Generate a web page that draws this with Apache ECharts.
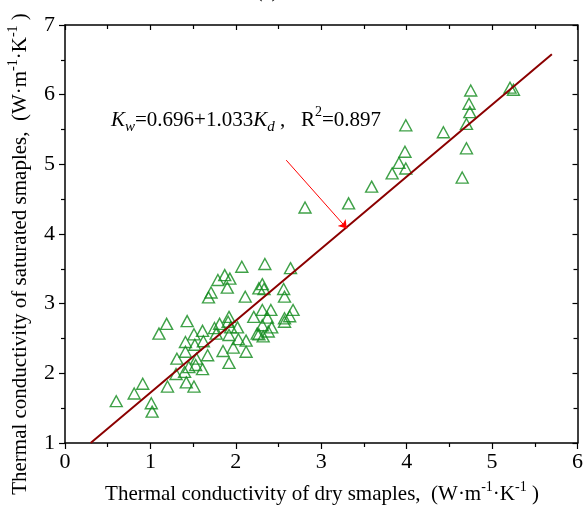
<!DOCTYPE html>
<html>
<head>
<meta charset="utf-8">
<script src="https://cdn.jsdelivr.net/npm/echarts@6/dist/echarts.min.js"></script>
<style>
  html, body { margin: 0; padding: 0; background: #fff; }
  #chart { width: 586px; height: 512px; }
</style>
</head>
<body>
<div id="chart"></div>
<script>
// 干样导热系数 / 饱和样导热系数
var kDry = [0.60, 0.81, 0.91, 1.01, 1.02, 1.10, 1.19, 1.20, 1.30, 1.31, 1.42, 1.43, 1.41, 1.41, 1.45,
  1.51, 1.52, 1.51, 1.54, 1.61, 1.62, 1.61, 1.67, 1.68, 1.71, 1.79, 1.87, 1.93, 1.90, 1.75,
  1.81, 1.77, 1.85, 1.92, 1.92, 1.91, 1.94, 1.92, 2.02, 2.03, 1.97, 2.12, 2.12, 2.07, 2.11,
  2.21, 2.25, 2.27, 2.31, 2.33, 2.34, 2.31, 2.41, 2.37, 2.31, 2.32, 2.38, 2.42, 2.27, 2.56,
  2.57, 2.64, 2.67, 2.57, 2.63, 2.57, 1.40, 1.53,
  2.81, 3.32, 3.59, 3.83, 3.91, 3.99, 3.98, 3.99, 4.43, 4.65, 4.70, 4.70, 4.74, 4.73, 4.75,
  5.21, 5.25];
var kSat = [1.60, 1.71, 1.85, 1.57, 1.45, 2.57, 2.71, 1.81, 1.99, 2.21, 1.87, 2.75, 2.45, 2.31, 2.09,
  1.81, 2.41, 2.56, 2.21, 2.61, 2.46, 2.06, 2.26, 3.09, 3.16, 3.34, 3.41, 3.36, 3.23, 2.65,
  2.71, 2.57, 2.32, 2.15, 2.81, 2.74, 2.66, 2.55, 2.66, 2.49, 2.37, 2.47, 2.31, 3.53, 3.10,
  2.81, 2.57, 3.22, 3.28, 3.21, 3.57, 2.91, 2.91, 2.80, 2.69, 2.53, 2.60, 2.66, 2.56, 3.21,
  3.10, 3.51, 2.91, 2.79, 2.82, 2.74, 2.02, 2.12,
  4.38, 4.44, 4.68, 4.87, 5.02, 4.94, 5.18, 5.56, 5.46, 4.81, 5.23, 5.58, 5.75, 5.87, 6.06,
  6.10, 6.07];
// 拟合直线端点
var fitX = [0.30, 5.70];
var fitY = [1.00, 6.58];
// 箭头
var arrowX = [2.59, 3.30];
var arrowY = [5.06, 4.08];
var xTicks = [0, 1, 2, 3, 4, 5, 6];
var yTicks = [1, 2, 3, 4, 5, 6, 7];

var serif = '"Liberation Serif", "DejaVu Serif", serif';
var green = '#0f8a1a';

var chart = echarts.init(document.getElementById('chart'));

var points = kDry.map(function (x, i) { return [x, kSat[i]]; });
var fitLine = fitX.map(function (x, i) { return [x, fitY[i]]; });
var arrow = arrowX.map(function (x, i) { return [x, arrowY[i]]; });

function axisBase(min, max, ticks) {
  return {
    type: 'value',
    min: min,
    max: max,
    interval: ticks[1] - ticks[0],
    axisLine: { show: true, onZero: false, lineStyle: { color: '#000', width: 1.5 } },
    splitLine: { show: false }
  };
}

var xBottom = Object.assign(axisBase(xTicks[0], xTicks[xTicks.length - 1], xTicks), {
  position: 'bottom',
  axisTick: { show: true, inside: false, length: 6, lineStyle: { color: '#000', width: 1.2 } },
  minorTick: { show: true, splitNumber: 2, length: 4, lineStyle: { color: '#000', width: 1.2 } },
  axisLabel: { color: '#000', fontFamily: serif, fontSize: 22, margin: 8 }
});
var xTop = Object.assign(axisBase(xTicks[0], xTicks[xTicks.length - 1], xTicks), {
  position: 'top',
  axisTick: { show: true, inside: true, length: 5, lineStyle: { color: '#000', width: 1.2 } },
  minorTick: { show: true, splitNumber: 2, length: 4, lineStyle: { color: '#000', width: 1.2 } },
  axisLabel: { show: false }
});
var yLeft = Object.assign(axisBase(yTicks[0], yTicks[yTicks.length - 1], yTicks), {
  position: 'left',
  axisTick: { show: true, inside: false, length: 6, lineStyle: { color: '#000', width: 1.2 } },
  minorTick: { show: true, splitNumber: 2, length: 4, lineStyle: { color: '#000', width: 1.2 } },
  axisLabel: { color: '#000', fontFamily: serif, fontSize: 22, margin: 10 }
});
var yRight = Object.assign(axisBase(yTicks[0], yTicks[yTicks.length - 1], yTicks), {
  position: 'right',
  axisTick: { show: true, inside: true, length: 5, lineStyle: { color: '#000', width: 1.2 } },
  minorTick: { show: true, splitNumber: 2, length: 4, lineStyle: { color: '#000', width: 1.2 } },
  axisLabel: { show: false }
});

var titleRich = {
  n: { fontFamily: serif, fontSize: 21, fill: '#000', lineHeight: 27, verticalAlign: 'middle' },
  sup: { fontFamily: serif, fontSize: 14, fill: '#000', lineHeight: 14, verticalAlign: 'top' }
};

var option = {
  animation: false,
  grid: { left: 65, right: 6, top: 25, bottom: 69 },
  xAxis: [xBottom, xTop],
  yAxis: [yLeft, yRight],
  graphic: [
    {
      type: 'text', left: 256, top: -18,
      style: { text: '(a)', font: '20px ' + serif, fill: '#000' }
    },
    {
      type: 'text', x: 20, y: 254, rotation: Math.PI / 2,
      style: {
        text: '{n|Thermal conductivity of saturated smaples,  (W·m}{sup|-1}{n|·K}{sup|-1}{n| )}',
        align: 'center', verticalAlign: 'middle',
        rich: titleRich
      }
    },
    {
      type: 'text', x: 322, y: 494,
      style: {
        text: '{n|Thermal conductivity of dry smaples,  (W·m}{sup|-1}{n|·K}{sup|-1}{n| )}',
        align: 'center', verticalAlign: 'middle',
        rich: titleRich
      }
    },
    {
      type: 'text', x: 111, y: 120,
      style: {
        text: '{i|K}{sub|w}{n|=0.696+1.033}{i|K}{sub|d}{n| ,   R}{sup|2}{n|=0.897}',
        align: 'left', verticalAlign: 'middle',
        rich: {
          n: { fontFamily: serif, fontSize: 21, fill: '#000', lineHeight: 30, verticalAlign: 'middle' },
          i: { fontFamily: serif, fontSize: 21, fontStyle: 'italic', fill: '#000', lineHeight: 30, verticalAlign: 'middle' },
          sub: { fontFamily: serif, fontSize: 15, fontStyle: 'italic', fill: '#000', lineHeight: 15, verticalAlign: 'bottom' },
          sup: { fontFamily: serif, fontSize: 14, fill: '#000', lineHeight: 14, verticalAlign: 'top' }
        }
      }
    }
  ],
  series: [
    {
      type: 'scatter',
      data: points,
      symbol: 'triangle',
      symbolSize: [12, 11],
      itemStyle: { color: 'rgba(255,255,255,0)', borderColor: green, borderWidth: 1.4 },
      z: 2
    },
    {
      type: 'line',
      data: fitLine,
      showSymbol: false,
      lineStyle: { color: '#8b0000', width: 2 },
      z: 3
    },
    {
      type: 'lines',
      coordinateSystem: 'cartesian2d',
      data: [{ coords: arrow }],
      symbol: ['none', 'arrow'],
      symbolSize: 8,
      lineStyle: { color: '#ff0000', width: 1, opacity: 1 },
      z: 4
    }
  ]
};

chart.setOption(option);
</script>
</body>
</html>
